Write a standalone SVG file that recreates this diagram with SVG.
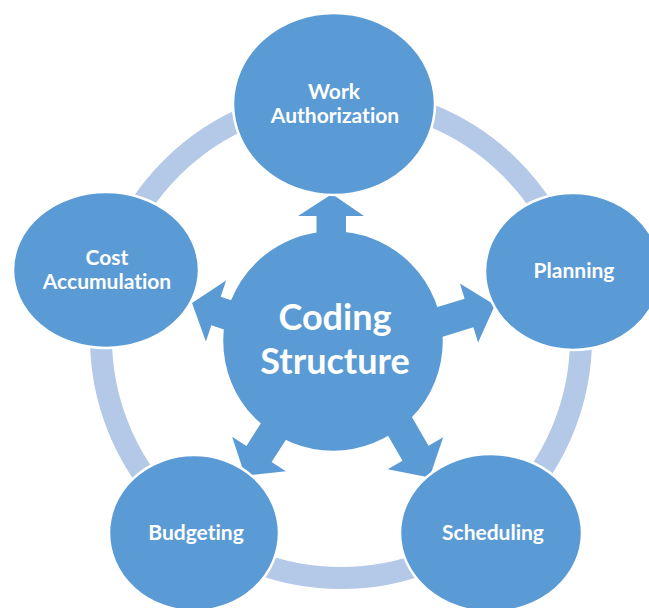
<svg xmlns="http://www.w3.org/2000/svg" width="649" height="608" viewBox="0 0 649 608">
  <style>
    .node { fill: #5b9bd5; stroke: #ffffff; stroke-width: 2.5; }
    .ring { fill: none; stroke: #b4c8e7; stroke-width: 22; }
    .arrow { fill: #5b9bd5; stroke: none; }
    .lbl { font-family: Lato, "Open Sans", "Liberation Sans", sans-serif; font-weight: bold; font-size: 21px; fill: #ffffff; text-anchor: middle; font-variant-ligatures: none; font-feature-settings: "liga" 0, "clig" 0; }
    .big { font-size: 36px; }
  </style>
  <rect x="0" y="0" width="649" height="608" fill="#ffffff"/>
  <circle class="ring" cx="341" cy="338" r="240"/>
  <g id="coding-structure">
    <circle class="node" cx="333" cy="341" r="111"/>
    <text class="lbl big" x="335" y="330">Coding</text>
    <text class="lbl big" x="335" y="374">Structure</text>
  </g>
  <g id="connectors">
    <polygon class="arrow" points="316.5,276 316.5,216 298,216 332,194 364,216 346,216 346,276"/>
    <polygon class="arrow" points="407.2,316.3 464.6,298.7 459.9,283.4 495,305 478.1,342.6 473.4,327.3 416,344.9"/>
    <polygon class="arrow" points="277.6,315.8 220.7,296.8 226.1,280.6 192,303 205.9,341.4 211.3,325.2 268.2,344.2"/>
    <polygon class="arrow" points="278.8,395.5 246.4,445.9 232.1,436.7 245,475.8 285.9,471.3 271.6,462.1 304,411.7"/>
    <polygon class="arrow" points="372.5,408.8 402.5,460.8 387.8,469.3 429.5,477.5 443.2,437.3 428.5,445.8 398.5,393.8"/>
  </g>
  <g id="work-authorization">
    <ellipse class="node" cx="334" cy="104" rx="101" ry="91"/>
    <text class="lbl" x="334" y="99">Work</text>
    <text class="lbl" x="335" y="123">Authorization</text>
  </g>
  <g id="planning">
    <ellipse class="node" cx="573" cy="271.5" rx="88" ry="78.5"/>
    <text class="lbl" x="574" y="278">Planning</text>
  </g>
  <g id="cost-accumulation">
    <ellipse class="node" cx="106" cy="270" rx="93" ry="78"/>
    <text class="lbl" x="107" y="265">Cost</text>
    <text class="lbl" x="107" y="289">Accumulation</text>
  </g>
  <g id="budgeting">
    <ellipse class="node" cx="194" cy="533" rx="85" ry="78"/>
    <text class="lbl" x="196" y="540">Budgeting</text>
  </g>
  <g id="scheduling">
    <ellipse class="node" cx="491" cy="533" rx="91" ry="79"/>
    <text class="lbl" x="493" y="540">Scheduling</text>
  </g>
</svg>
